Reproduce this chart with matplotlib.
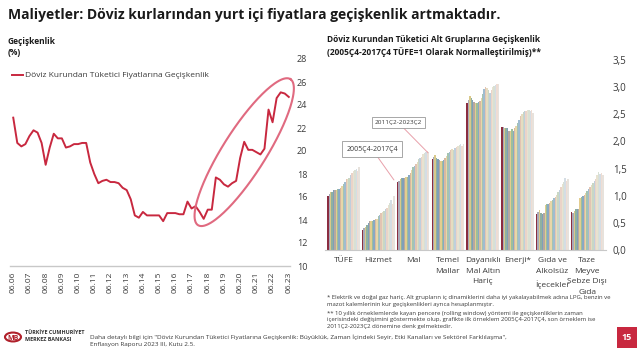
import matplotlib
matplotlib.use("Agg")
import matplotlib.pyplot as plt
import numpy as np
from matplotlib.ticker import FuncFormatter
from matplotlib.patches import Rectangle, Circle

plt.rcParams['font.family'] = ['Open Sans', 'DejaVu Sans']

# ---------------- data ----------------
# Left chart: quarterly pass-through (%) 2006Q2 .. 2023Q2
passthrough = [22.9, 20.7, 20.4, 20.6, 21.3, 21.8, 21.6, 20.7, 18.8, 20.3,
               21.5, 21.1, 21.1, 20.3, 20.4, 20.6, 20.6, 20.7, 20.7, 19.0,
               18.0, 17.2, 17.4, 17.5, 17.3, 17.3, 17.2, 16.8, 16.6, 15.8,
               14.4, 14.2, 14.7, 14.4, 14.4, 14.4, 14.4, 13.9, 14.6, 14.6,
               14.6, 14.5, 14.5, 15.6, 15.0, 15.2, 14.7, 14.1, 14.9, 14.9,
               17.7, 17.5, 17.1, 16.9, 17.2, 17.4, 19.4, 20.8, 20.1, 20.1,
               19.9, 19.7, 20.2, 23.6, 22.5, 24.6, 25.1, 25.0, 24.7]
year_ticks = ["06.06", "06.07", "06.08", "06.09", "06.10", "06.11", "06.12",
              "06.13", "06.14", "06.15", "06.16", "06.17", "06.18", "06.19",
              "06.20", "06.21", "06.22", "06.23"]
left_yticks = [10, 12, 14, 16, 18, 20, 22, 24, 26, 28]

# Right chart: normalised pass-through by sub-group, rolling windows
categories = ["TÜFE", "Hizmet", "Mal", "Temel\nMallar", "Dayanıklı\nMal Altın\nHariç",
              "Enerji*", "Gıda ve\nAlkolsüz\nİçecekler", "Taze\nMeyve\nSebze Dışı\nGıda"]
tufe = [0.99, 1.03, 1.06, 1.07, 1.10, 1.11, 1.10, 1.12, 1.12, 1.15, 1.18, 1.22,
        1.26, 1.30, 1.30, 1.33, 1.38, 1.42, 1.46, 1.48, 1.50, 1.45, 1.53]
hizmet = [0.37, 0.40, 0.43, 0.46, 0.50, 0.53, 0.54, 0.54, 0.55, 0.57, 0.58, 0.62,
          0.65, 0.68, 0.70, 0.72, 0.75, 0.78, 0.82, 0.86, 0.92, 0.84, 0.99]
mal = [1.25, 1.28, 1.30, 1.33, 1.33, 1.32, 1.35, 1.35, 1.38, 1.42, 1.48, 1.52,
       1.55, 1.58, 1.62, 1.67, 1.70, 1.72, 1.76, 1.78, 1.80, 1.82, 1.80]
temel = [1.68, 1.72, 1.75, 1.70, 1.68, 1.66, 1.64, 1.64, 1.65, 1.70, 1.74, 1.78,
         1.80, 1.84, 1.86, 1.84, 1.88, 1.90, 1.92, 1.94, 1.96, 1.92, 1.95]
dayanikli = [2.70, 2.76, 2.84, 2.80, 2.76, 2.72, 2.70, 2.70, 2.72, 2.74, 2.80, 2.88,
             2.96, 3.00, 2.98, 2.94, 2.90, 2.95, 3.00, 3.02, 3.04, 3.06, 3.06]
enerji = [2.26, 2.26, 2.25, 2.25, 2.24, 2.20, 2.19, 2.22, 2.20, 2.25, 2.28, 2.34,
          2.40, 2.46, 2.50, 2.54, 2.56, 2.56, 2.57, 2.57, 2.56, 2.57, 2.53]
gida = [0.66, 0.70, 0.74, 0.68, 0.67, 0.68, 0.82, 0.84, 0.84, 0.86, 0.90, 0.92,
        0.95, 0.98, 1.02, 1.06, 1.10, 1.16, 1.22, 1.26, 1.32, 1.28, 1.30]
taze = [0.70, 0.69, 0.72, 0.75, 0.76, 0.76, 0.96, 0.98, 1.00, 1.02, 1.05, 1.08,
        1.12, 1.16, 1.20, 1.24, 1.27, 1.30, 1.38, 1.44, 1.40, 1.41, 1.39]
right_yticks = [0.0, 0.5, 1.0, 1.5, 2.0, 2.5, 3.0, 3.5]

bar_colors = ['#8b2d40', '#a9a9b8', '#d9c98a', '#8fb1a0', '#7f9fb9', '#b5a8a0',
              '#e3cd8f', '#9dbf9a', '#88a9c4', '#d8b9a0', '#e8d6a8', '#a5c4b0',
              '#9fbcd0', '#e2c4b3', '#e6dcc0', '#c9d7c4', '#bfcfdc', '#ead3c8',
              '#e8e2d0', '#d8e0d4', '#d4dde4', '#efdcd3', '#e7e2dc']

RED = '#c8283f'
TXT = '#3a3a3a'

W, H = 644, 358
fig = plt.figure(figsize=(W / 100, H / 100), dpi=100)


def fr(x0, y0, x1, y1):
    return [x0 / W, 1 - y1 / H, (x1 - x0) / W, (y1 - y0) / H]


# ---------------- title ----------------
fig.text(8 / W, 1 - 15 / H, "Maliyetler: Döviz kurlarından yurt içi fiyatlara geçişkenlik artmaktadır.",
         fontsize=10, fontweight='bold', color='#1a1a1a', va='center', ha='left')

# ---------------- left chart ----------------
ax1 = fig.add_axes(fr(10, 59, 290, 266))
xs = np.arange(len(passthrough))
ax1.plot(xs, passthrough, color=RED, lw=1.4, label="Döviz Kurundan Tüketici Fiyatlarına Geçişkenlik")
ax1.set_xlim(-0.8, 68.3)
ax1.set_ylim(10, 28)
ax1.set_xticks(np.arange(0, 69, 4))
ax1.set_xticklabels(year_ticks, rotation=90, fontsize=6, color=TXT)
ax1.yaxis.tick_right()
ax1.set_yticks(left_yticks)
ax1.set_yticklabels([str(v) for v in left_yticks], fontsize=6.5, color=TXT)
ax1.tick_params(axis='both', length=0)
ax1.tick_params(axis='y', pad=5)
ax1.tick_params(axis='x', pad=4)
for s in ['top', 'left', 'right']:
    ax1.spines[s].set_visible(False)
ax1.spines['bottom'].set_color('#c8c8c8')
ax1.spines['bottom'].set_linewidth(1.0)
leg = ax1.legend(loc='upper left', bbox_to_anchor=(-0.005, 0.955), frameon=False, fontsize=6,
                 handlelength=1.3, handletextpad=0.3, borderaxespad=0)
for t in leg.get_texts():
    t.set_color(TXT)

# ellipse annotation (data units via conjugate half-axes)
t = np.linspace(0, 2 * np.pi, 200)
cx, cy = 57.0, 19.9
ax_a = np.array([11.4, 6.35])
ax_b = np.array([4.5, -1.0])
ex = cx + np.cos(t) * ax_a[0] + np.sin(t) * ax_b[0]
ey = cy + np.cos(t) * ax_a[1] + np.sin(t) * ax_b[1]
ax1.plot(ex, ey, color='#e06a80', lw=1.5, clip_on=False)

fig.text(8 / W, 1 - 47 / H, "Geçişkenlik\n(%)", fontsize=6, fontweight='bold', color='#1a1a1a',
         va='center', ha='left', linespacing=1.4)

# ---------------- right chart ----------------
ax2 = fig.add_axes(fr(325, 60, 606, 250))
groups = [tufe, hizmet, mal, temel, dayanikli, enerji, gida, taze]
n = len(tufe)
gw = 0.94
bw = gw / n
for gi, vals in enumerate(groups):
    pos = gi - gw / 2 + bw * (np.arange(n) + 0.5)
    ax2.bar(pos, vals, width=bw, color=bar_colors[:n], edgecolor='none')
ax2.set_xlim(-0.53, 7.54)
ax2.set_ylim(0, 3.5)
ax2.set_xticks(range(len(categories)))
ax2.set_xticklabels(categories, fontsize=6, color=TXT, linespacing=1.75, va='top')
ax2.yaxis.tick_right()
ax2.set_yticks(right_yticks)
ax2.yaxis.set_major_formatter(FuncFormatter(lambda v, p: f"{v:.1f}".replace('.', ',')))
ax2.tick_params(axis='y', labelsize=7, labelcolor=TXT, pad=5, length=0)
ax2.tick_params(axis='x', length=0, pad=5)
for s in ['top', 'left', 'right']:
    ax2.spines[s].set_visible(False)
ax2.spines['bottom'].set_color('#c8c8c8')

# annotations
arrow = dict(arrowstyle='-', color='#e8a0aa', lw=0.7, shrinkA=0, shrinkB=0)
ax2.annotate("2011Ç2-2023Ç2", xy=(2.43, 1.79), xytext=(1.57, 2.35), fontsize=4.6, color=TXT,
             ha='center', va='center',
             bbox=dict(boxstyle='square,pad=0.45', fc='white', ec='#999999', lw=0.6),
             arrowprops=arrow)
ax2.annotate("2005Ç4-2017Ç4", xy=(1.45, 1.29), xytext=(0.82, 1.86), fontsize=5.0, color=TXT,
             ha='center', va='center',
             bbox=dict(boxstyle='square,pad=0.6', fc='white', ec='#999999', lw=0.6),
             arrowprops=arrow)

fig.text(327 / W, 1 - 46 / H,
         "Döviz Kurundan Tüketici Alt Gruplarına Geçişkenlik\n(2005Ç4-2017Ç4 TÜFE=1 Olarak Normalleştirilmiş)**",
         fontsize=6, fontweight='bold', color='#1a1a1a', va='center', ha='left', linespacing=1.3)

# footnotes
fig.text(327 / W, 1 - 301 / H,
         "* Elektrik ve doğal gaz hariç. Alt grupların iç dinamiklerini daha iyi yakalayabilmek adına LPG, benzin ve\n"
         "mazot kalemlerinin kur geçişkenlikleri ayrıca hesaplanmıştır.",
         fontsize=4.3, color=TXT, va='center', ha='left', linespacing=1.4)
fig.text(327 / W, 1 - 320 / H,
         "** 10 yıllık örneklemlerde kayan pencere (rolling window) yöntemi ile geçişkenliklerin zaman\n"
         "içerisindeki değişimini göstermekte olup, grafikte ilk örneklem 2005Ç4-2017Ç4, son örneklem ise\n"
         "2011Ç2-2023Ç2 dönemine denk gelmektedir.",
         fontsize=4.3, color=TXT, va='center', ha='left', linespacing=1.4)

# bottom source
fig.text(90 / W, 1 - 340.5 / H,
         "Daha detaylı bilgi için \"Döviz Kurundan Tüketici Fiyatlarına Geçişkenlik: Büyüklük, Zaman İçindeki Seyir, Etki Kanalları ve Sektörel Farklılaşma\",\n"
         "Enflasyon Raporu 2023 III, Kutu 2.5.",
         fontsize=4.55, color=TXT, va='center', ha='left', linespacing=1.4)

# logo
fig.patches.append(Circle((13 / W, 1 - 337 / H), 8 / W, transform=fig.transFigure,
                          fill=False, ec='#b0202a', lw=1.5))
fig.text(13 / W, 1 - 338 / H, "MB", fontsize=5, fontweight='bold', color='#b0202a',
         ha='center', va='center')
fig.text(25 / W, 1 - 336 / H, "TÜRKİYE CUMHURİYET\nMERKEZ BANKASI", fontsize=3.9,
         fontweight='bold', color='#333333', ha='left', va='center', linespacing=1.4)

# page number
fig.patches.append(Rectangle((617 / W, 1 - 348 / H), 20 / W, 21 / H, transform=fig.transFigure,
                             fc='#c8283f', ec='none'))
fig.text(627 / W, 1 - 337.5 / H, "15", fontsize=6.5, fontweight='bold', color='white',
         ha='center', va='center')

fig.savefig("out.png", dpi=100)
